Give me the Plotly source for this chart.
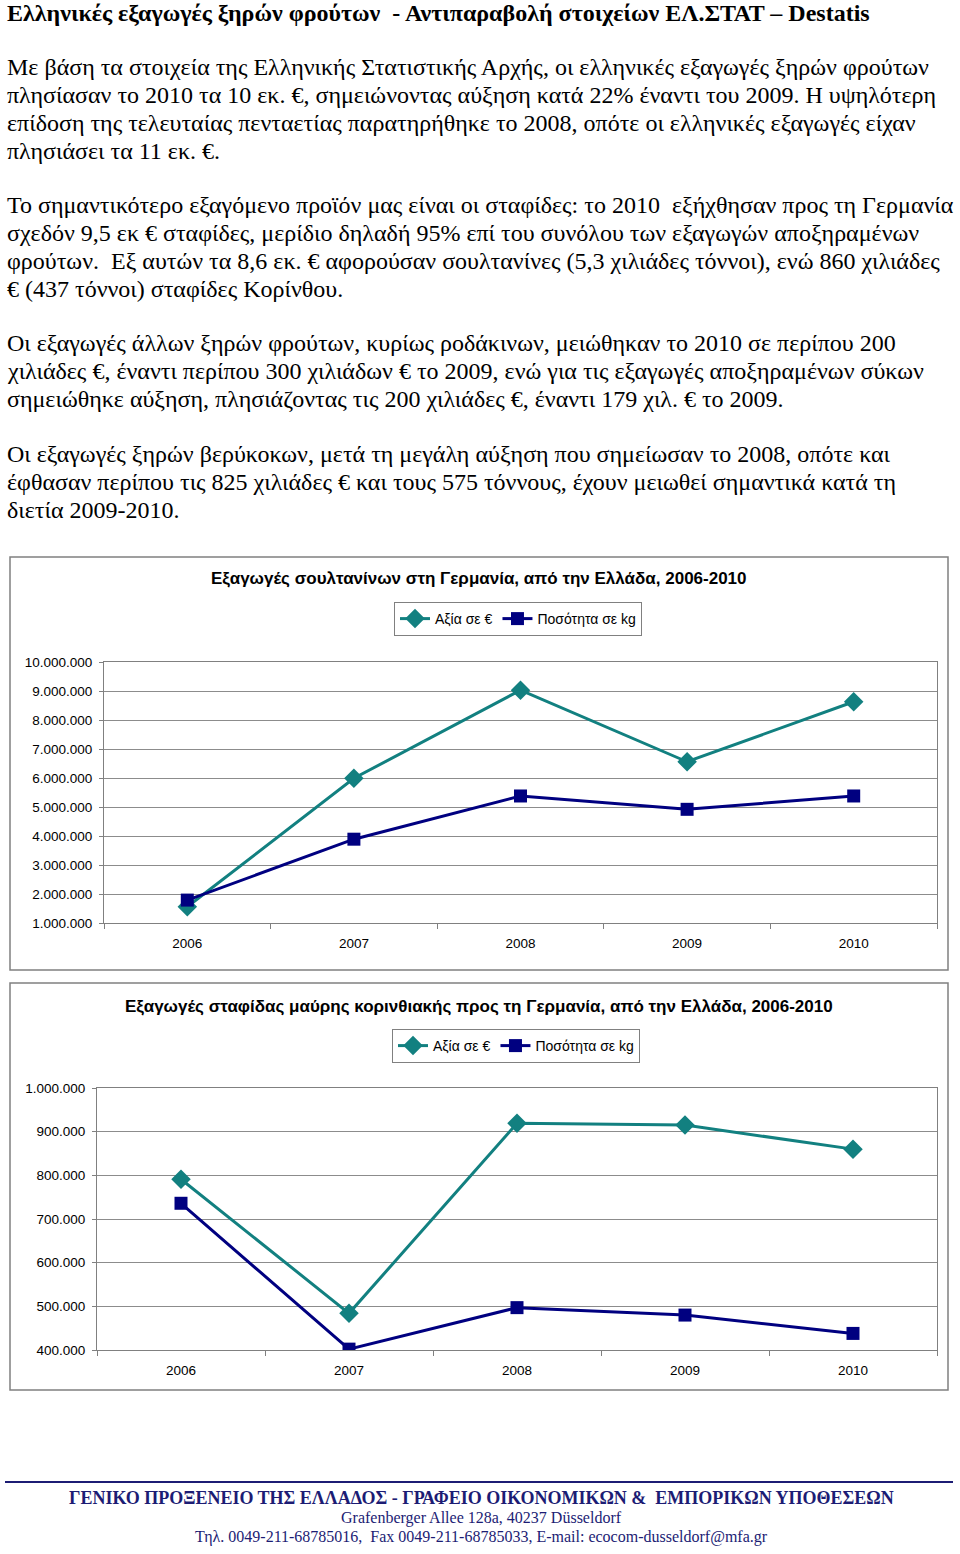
import plotly.graph_objects as go

# ---------------- data ----------------
years = ["2006", "2007", "2008", "2009", "2010"]
sultana_value = [1560000, 5990000, 9030000, 6560000, 8630000]
sultana_qty = [1790000, 3890000, 5380000, 4920000, 5380000]
currant_value = [791000, 484000, 919000, 915000, 860000]
currant_qty = [736000, 402000, 497000, 480000, 438000]
series_names = ["Αξία σε €", "Ποσότητα σε kg"]

chart1_title = "Εξαγωγές σουλτανίνων στη Γερμανία, από την Ελλάδα, 2006-2010"
chart2_title = "Εξαγωγές σταφίδας μαύρης κορινθιακής προς τη Γερμανία, από την Ελλάδα, 2006-2010"

page_title = "Ελληνικές εξαγωγές ξηρών φρούτων  - Αντιπαραβολή στοιχείων ΕΛ.ΣΤΑΤ – Destatis"
body_lines = [
    "Με βάση τα στοιχεία της Ελληνικής Στατιστικής Αρχής, οι ελληνικές εξαγωγές ξηρών φρούτων",
    "πλησίασαν το 2010 τα 10 εκ. €, σημειώνοντας αύξηση κατά 22% έναντι του 2009. Η υψηλότερη",
    "επίδοση της τελευταίας πενταετίας παρατηρήθηκε το 2008, οπότε οι ελληνικές εξαγωγές είχαν",
    "πλησιάσει τα 11 εκ. €.",
    "Το σημαντικότερο εξαγόμενο προϊόν μας είναι οι σταφίδες: το 2010  εξήχθησαν προς τη Γερμανία",
    "σχεδόν 9,5 εκ € σταφίδες, μερίδιο δηλαδή 95% επί του συνόλου των εξαγωγών αποξηραμένων",
    "φρούτων.  Εξ αυτών τα 8,6 εκ. € αφορούσαν σουλτανίνες (5,3 χιλιάδες τόννοι), ενώ 860 χιλιάδες",
    "€ (437 τόννοι) σταφίδες Κορίνθου.",
    "Οι εξαγωγές άλλων ξηρών φρούτων, κυρίως ροδάκινων, μειώθηκαν το 2010 σε περίπου 200",
    "χιλιάδες €, έναντι περίπου 300 χιλιάδων € το 2009, ενώ για τις εξαγωγές αποξηραμένων σύκων",
    "σημειώθηκε αύξηση, πλησιάζοντας τις 200 χιλιάδες €, έναντι 179 χιλ. € το 2009.",
    "Οι εξαγωγές ξηρών βερύκοκων, μετά τη μεγάλη αύξηση που σημείωσαν το 2008, οπότε και",
    "έφθασαν περίπου τις 825 χιλιάδες € και τους 575 τόννους, έχουν μειωθεί σημαντικά κατά τη",
    "διετία 2009-2010.",
]
body_y = [67, 95, 123, 151, 205, 233, 261, 289, 343, 371, 399, 454, 482, 510]

footer_lines = [
    "ΓΕΝΙΚΟ ΠΡΟΞΕΝΕΙΟ ΤΗΣ ΕΛΛΑΔΟΣ - ΓΡΑΦΕΙΟ ΟΙΚΟΝΟΜΙΚΩΝ &  ΕΜΠΟΡΙΚΩΝ ΥΠΟΘΕΣΕΩΝ",
    "Grafenberger Allee 128a, 40237 Düsseldorf",
    "Τηλ. 0049-211-68785016,  Fax 0049-211-68785033, E-mail: ecocom-dusseldorf@mfa.gr",
]

# ---------------- styling ----------------
W, H = 960, 1554
TEAL = "#128080"
NAVY = "#000080"
FOOT = "#1c1c74"
SERIF = "Liberation Serif, Times New Roman, serif"
SANS = "Liberation Sans, Arial, sans-serif"


def py(v):
    return 1 - v / H


def px(v):
    return v / W


fig = go.Figure()

# chart 1 traces
fig.add_trace(go.Scatter(x=years, y=sultana_value, name=series_names[0], mode="lines+markers",
                         line=dict(color=TEAL, width=3), marker=dict(symbol="diamond", size=15, color=TEAL),
                         xaxis="x", yaxis="y", legend="legend"))
fig.add_trace(go.Scatter(x=years, y=sultana_qty, name=series_names[1], mode="lines+markers",
                         line=dict(color=NAVY, width=3), marker=dict(symbol="square", size=13, color=NAVY),
                         xaxis="x", yaxis="y", legend="legend"))
# chart 2 traces
fig.add_trace(go.Scatter(x=years, y=currant_value, name=series_names[0], mode="lines+markers",
                         line=dict(color=TEAL, width=3), marker=dict(symbol="diamond", size=15, color=TEAL),
                         xaxis="x2", yaxis="y2", legend="legend2"))
fig.add_trace(go.Scatter(x=years, y=currant_qty, name=series_names[1], mode="lines+markers",
                         line=dict(color=NAVY, width=3), marker=dict(symbol="square", size=13, color=NAVY),
                         xaxis="x2", yaxis="y2", legend="legend2"))

xcommon = dict(type="category", range=[-0.5, 4.5], tickson="boundaries", ticks="outside", ticklen=5,
               tickcolor="#808080", showline=True, linecolor="#808080", linewidth=1, mirror=True,
               showgrid=False, zeroline=False, tickfont=dict(family=SANS, size=13.5, color="#000"),
               ticklabelstandoff=8, fixedrange=True)
ycommon = dict(showgrid=True, gridcolor="#8c8c8c", gridwidth=1, ticks="outside", ticklen=4,
               tickcolor="#808080", showline=True, linecolor="#808080", linewidth=1, mirror=True,
               zeroline=False, tickformat=",d", tickfont=dict(family=SANS, size=13.5, color="#000"),
               fixedrange=True)

legend_common = dict(orientation="h", bgcolor="#ffffff", bordercolor="#808080", borderwidth=1,
                     font=dict(family=SANS, size=14, color="#000"), xanchor="center", yanchor="middle",
                     itemwidth=30, tracegroupgap=0)

annotations = []
# page title
annotations.append(dict(text="<b>" + page_title + "</b>", x=px(5), y=py(13), xref="paper", yref="paper",
                        xanchor="left", yanchor="middle", showarrow=False,
                        font=dict(family=SERIF, size=24, color="#000")))
for t, yy in zip(body_lines, body_y):
    annotations.append(dict(text=t, x=px(5), y=py(yy), xref="paper", yref="paper",
                            xanchor="left", yanchor="middle", showarrow=False,
                            font=dict(family=SERIF, size=24, color="#000")))
# chart titles
annotations.append(dict(text="<b>" + chart1_title + "</b>", x=px(479), y=py(578), xref="paper", yref="paper",
                        xanchor="center", yanchor="middle", showarrow=False,
                        font=dict(family=SANS, size=17, color="#000")))
annotations.append(dict(text="<b>" + chart2_title + "</b>", x=px(479), y=py(1006), xref="paper", yref="paper",
                        xanchor="center", yanchor="middle", showarrow=False,
                        font=dict(family=SANS, size=17, color="#000")))
# footer
foot_y = [1498, 1518, 1537]
foot_sizes = [18, 16, 16]
for i, (t, yy, s) in enumerate(zip(footer_lines, foot_y, foot_sizes)):
    txt = "<b>" + t + "</b>" if i == 0 else t
    annotations.append(dict(text=txt, x=px(481), y=py(yy), xref="paper", yref="paper",
                            xanchor="center", yanchor="middle", showarrow=False,
                            font=dict(family=SERIF, size=s, color=FOOT)))

shapes = [
    dict(type="rect", xref="paper", yref="paper", x0=px(10), x1=px(948), y0=py(557), y1=py(970),
         line=dict(color="#808080", width=1.5), fillcolor="rgba(0,0,0,0)", layer="below"),
    dict(type="rect", xref="paper", yref="paper", x0=px(10), x1=px(948), y0=py(983), y1=py(1390),
         line=dict(color="#808080", width=1.5), fillcolor="rgba(0,0,0,0)", layer="below"),
    dict(type="line", xref="paper", yref="paper", x0=px(5), x1=px(953), y0=py(1482), y1=py(1482),
         line=dict(color=FOOT, width=2)),
]

fig.update_layout(
    width=W, height=H, margin=dict(l=0, r=0, t=0, b=0, pad=0, autoexpand=False),
    paper_bgcolor="#ffffff", plot_bgcolor="#ffffff", separators=",.",
    xaxis=dict(domain=[px(104), px(937)], anchor="y", **xcommon),
    yaxis=dict(domain=[py(923), py(662)], anchor="x", range=[1000000, 10000000], dtick=1000000,
               tick0=0, ticklabelstandoff=4, **ycommon),
    xaxis2=dict(domain=[px(97), px(937)], anchor="y2", **xcommon),
    yaxis2=dict(domain=[py(1350), py(1088)], anchor="x2", range=[400000, 1000000], dtick=100000,
                tick0=0, ticklabelstandoff=4, **ycommon),
    legend=dict(x=px(518), y=py(619), **legend_common),
    legend2=dict(x=px(516), y=py(1046), **legend_common),
    annotations=annotations,
    shapes=shapes,
    showlegend=True,
    hovermode=False,
)

# page is shown edge to edge (no default body margin), without the mode bar
fig.write_html("out.html", config={"displayModeBar": False},
               post_script="document.body.style.margin='0';")
